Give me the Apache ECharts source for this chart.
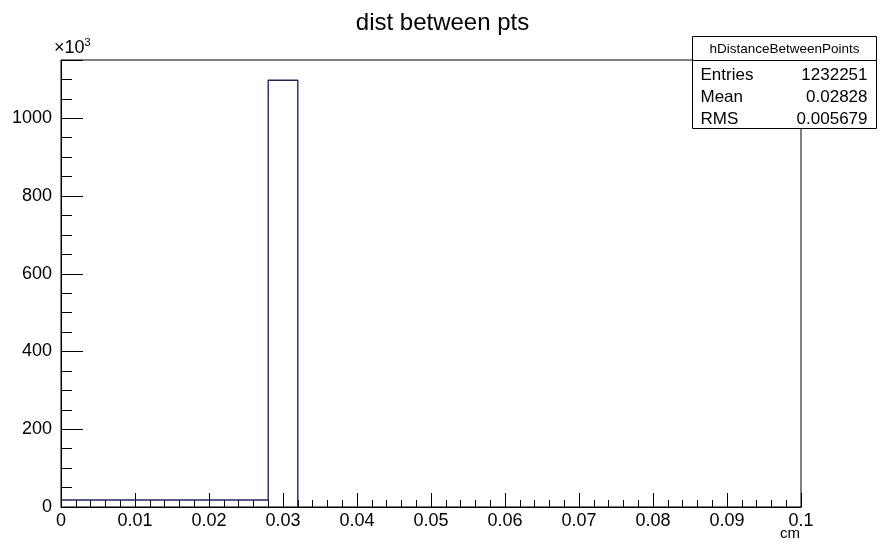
<!DOCTYPE html>
<html>
<head>
<meta charset="utf-8">
<script src="https://cdn.jsdelivr.net/npm/echarts@6/dist/echarts.min.js"></script>
<style>html,body{margin:0;padding:0;background:#fff;}#c{width:885px;height:547px;}</style>
</head>
<body>
<div id="c"></div>
<script>
// ---- data (counts in units of 10^3) ----
const binStart = 0;
const binWidth = 0.004;
const binCounts = [18, 18, 18, 18, 18, 18, 18, 1098, 0, 0, 0, 0, 0, 0, 0, 0, 0, 0, 0, 0, 0, 0, 0, 0, 0];
const xTickLabels = ['0', '0.01', '0.02', '0.03', '0.04', '0.05', '0.06', '0.07', '0.08', '0.09', '0.1'];
const yTickLabels = ['0', '200', '400', '600', '800', '1000'];
const chartTitle = 'dist between pts';
const histName = 'hDistanceBetweenPoints';
const statLabels = ['Entries', 'Mean', 'RMS'];
const statValues = ['1232251', '0.02828', '0.005679'];
const xUnit = 'cm';

// build outline polyline from bins (stop after last non-empty bin; zero level lies on the axis)
let lastBin = binCounts.length - 1;
while (lastBin > 0 && binCounts[lastBin] === 0) lastBin--;
const outline = [];
for (let i = 0; i <= lastBin; i++) {
  const x0 = binStart + i * binWidth, x1 = x0 + binWidth;
  outline.push([x0, binCounts[i]]);
  outline.push([x1, binCounts[i]]);
}
outline.push([binStart + (lastBin + 1) * binWidth, 0]);

const FONT = '"Liberation Sans", Arial, Helvetica, sans-serif';
const chart = echarts.init(document.getElementById('c'));

const boxL = 690, boxT = 36, boxW = 184, boxH = 92, boxSep = 24;

chart.setOption({
  animation: false,
  backgroundColor: '#fff',
  title: {
    text: chartTitle, left: 'center', top: 6,
    textStyle: { fontFamily: FONT, fontSize: 24, fontWeight: 'normal', color: '#000' }
  },
  grid: { left: 61, right: 84, top: 60, bottom: 40, show: true, borderColor: '#000', borderWidth: 1, backgroundColor: 'transparent' },
  xAxis: {
    type: 'value', min: 0, max: 0.1, interval: 0.01,
    axisLine: { show: true, lineStyle: { color: '#000', width: 1 } },
    axisTick: { show: true, inside: true, length: 14, lineStyle: { color: '#000' } },
    minorTick: { show: true, splitNumber: 5, length: 7, lineStyle: { color: '#000' } },
    splitLine: { show: false }, minorSplitLine: { show: false },
    axisLabel: {
      margin: 5, fontFamily: FONT, fontSize: 18, color: '#000',
      formatter: v => { const i = Math.round(v / 0.01); return (Math.abs(v - i * 0.01) < 1e-9 && xTickLabels[i] !== undefined) ? xTickLabels[i] : ''; }
    }
  },
  yAxis: {
    type: 'value', min: 0, max: 1150, interval: 200,
    axisLine: { show: true, lineStyle: { color: '#000', width: 1 } },
    axisTick: { show: true, inside: true, length: 22, lineStyle: { color: '#000' } },
    minorTick: { show: true, splitNumber: 4, length: 11, lineStyle: { color: '#000' } },
    splitLine: { show: false }, minorSplitLine: { show: false },
    axisLabel: {
      margin: 9, fontFamily: FONT, fontSize: 18, color: '#000', showMaxLabel: false,
      formatter: v => { const i = Math.round(v / 200); return (Math.abs(v - i * 200) < 1e-6 && yTickLabels[i] !== undefined) ? yTickLabels[i] : ''; }
    }
  },
  series: [{
    type: 'line', data: outline, symbol: 'none', silent: true,
    lineStyle: { color: '#1f1f8a', width: 1.4 }, z: 3
  }],
  graphic: [
    {
      type: 'text', left: 54, top: 37, z: 10,
      style: {
        text: '{a|×10}{b|3}', fill: '#000',
        rich: {
          a: { fontFamily: FONT, fontSize: 18, verticalAlign: 'bottom', lineHeight: 20 },
          b: { fontFamily: FONT, fontSize: 11, verticalAlign: 'top', lineHeight: 20, padding: [0, 0, 8, 0] }
        }
      }
    },
    {
      type: 'text', right: 85, top: 526, z: 10,
      style: { text: xUnit, fontFamily: FONT, fontSize: 15, fill: '#000' }
    },
    {
      type: 'group', left: boxL, top: boxT, z: 20,
      children: [
        { type: 'rect', shape: { x: 0, y: 0, width: boxW, height: boxH }, style: { fill: '#fff', stroke: '#000', lineWidth: 1 } },
        { type: 'line', shape: { x1: 0, y1: boxSep, x2: boxW, y2: boxSep }, style: { stroke: '#000', lineWidth: 1 } },
        { type: 'text', x: boxW / 2, y: boxSep / 2 + 1, style: { text: histName, fontFamily: FONT, fontSize: 13.5, fill: '#000', align: 'center', verticalAlign: 'middle' } }
      ].concat(statLabels.map((l, i) => ({
        type: 'text', x: 8, y: boxSep + 15 + i * 22, style: { text: l, fontFamily: FONT, fontSize: 17, fill: '#000', align: 'left', verticalAlign: 'middle' }
      }))).concat(statValues.map((v, i) => ({
        type: 'text', x: boxW - 9, y: boxSep + 15 + i * 22, style: { text: v, fontFamily: FONT, fontSize: 17, fill: '#000', align: 'right', verticalAlign: 'middle' }
      })))
    }
  ]
});
</script>
</body>
</html>
